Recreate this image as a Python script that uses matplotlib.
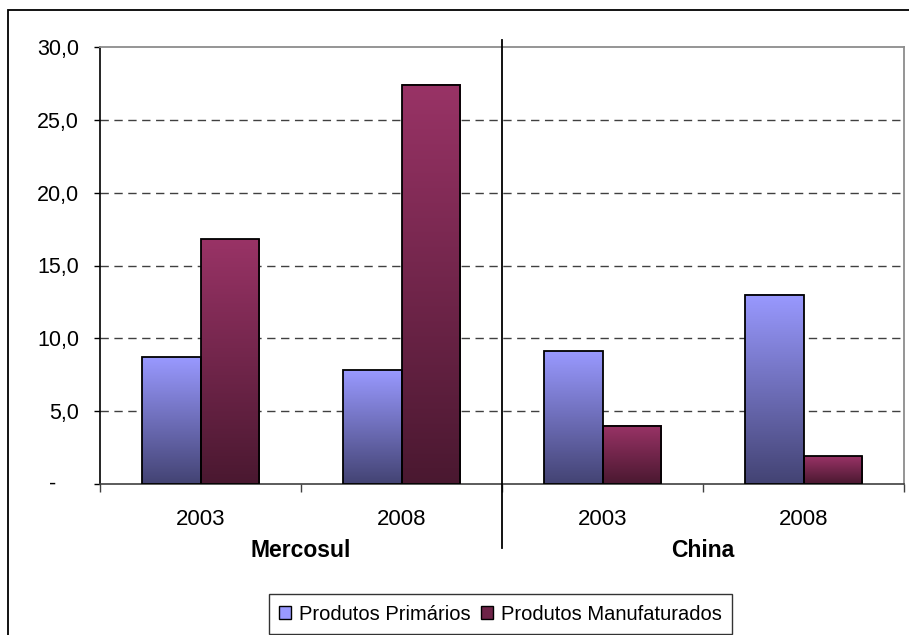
import numpy as np
import matplotlib
matplotlib.use("Agg")
import matplotlib.pyplot as plt
from matplotlib.patches import Rectangle, Patch
from matplotlib.colors import to_rgb

plt.rcParams['font.family'] = ['Liberation Sans', 'DejaVu Sans']

# Data
grupos = ['Mercosul', 'China']
anos = ['2003', '2008', '2003', '2008']
primarios = [8.7, 7.8, 9.1, 13.0]
manufaturados = [16.8, 27.4, 4.0, 1.9]
series = ['Produtos Primários', 'Produtos Manufaturados']
yticks = [0, 5, 10, 15, 20, 25, 30]

cor_prim = ('#9999FF', '#434373')
cor_manu = ('#993366', '#4A1830')

fig = plt.figure(figsize=(9.09, 6.35), dpi=100)
ax = fig.add_axes([100 / 909, 1 - 484 / 635, 804 / 909, 437 / 635])

x = np.arange(len(anos))
w = 0.29

b1 = ax.bar(x - w / 2, primarios, w, facecolor='none', edgecolor='black', lw=1.3, zorder=3)
b2 = ax.bar(x + w / 2, manufaturados, w, facecolor='none', edgecolor='black', lw=1.3, zorder=3)


def gradiente(bars, cores):
    c0 = np.array(to_rgb(cores[0]))
    c1 = np.array(to_rgb(cores[1]))
    t = np.linspace(0, 1, 256)[:, None]
    img = (c0 + (c1 - c0) * t)[:, None, :]
    for p in bars:
        x0, y0 = p.get_x(), p.get_y()
        ax.imshow(img, extent=(x0, x0 + p.get_width(), y0, y0 + p.get_height()),
                  origin='upper', aspect='auto', interpolation='bilinear', zorder=2)


gradiente(b1, cor_prim)
gradiente(b2, cor_manu)

ax.set_xlim(-0.5, len(anos) - 0.5)
ax.set_ylim(0, 30)

# grid
ax.set_yticks(yticks)
ax.set_yticklabels([''] + [f'{v:.1f}'.replace('.', ',') for v in yticks[1:]], fontsize=15.5)
ax.annotate('-', xy=(0, 0), xycoords=('axes fraction', 'data'), xytext=(-34, 0),
            textcoords='offset points', ha='center', va='center', fontsize=15.5)
for v in yticks[1:-1]:
    ax.axhline(v, color='#404040', lw=1, ls=(0, (6, 4)), zorder=1)
ax.tick_params(axis='y', length=4, width=1, pad=11)

ax.set_xticks(x)
ax.set_xticklabels(anos, fontsize=16)
ax.set_xticks(np.arange(-0.5, len(anos)), minor=True)
ax.tick_params(axis='x', which='major', length=0, pad=18)
ax.tick_params(axis='x', which='minor', length=6, width=1, color='#404040')

for s in ['top', 'right']:
    ax.spines[s].set_color('#8c8c8c')
    ax.spines[s].set_linewidth(1.3)
ax.spines['left'].set_color('black')
ax.spines['bottom'].set_color('#404040')
ax.spines['left'].set_linewidth(1.2)
ax.spines['bottom'].set_linewidth(1.2)

# group labels and separator
for i, g in enumerate(grupos):
    ax.text(2 * i + 0.5, -0.152, g, transform=ax.get_xaxis_transform(),
            ha='center', va='center', fontsize=16.5, fontweight='bold')
ax.plot([1.5, 1.5], [-0.146, 1.016], transform=ax.get_xaxis_transform(),
        color='black', lw=1.3, clip_on=False, zorder=5)

# legend
handles = [Patch(facecolor=cor_prim[0], edgecolor='black', lw=1),
           Patch(facecolor='#6E2448', edgecolor='black', lw=1)]
leg = fig.legend(handles, series, loc='center', bbox_to_anchor=(500.5 / 909, 1 - 614 / 635),
                 ncol=2, fontsize=14.5, frameon=True, fancybox=False, edgecolor='black',
                 handlelength=0.6, handleheight=0.6, handletextpad=0.4, columnspacing=0.5,
                 borderpad=0.5)
leg.get_frame().set_linewidth(1)

# outer chart border (cut by the picture edge)
fig.patches.append(Rectangle((8 / 909, -0.1), 1.2, 1.1 - 10 / 635, transform=fig.transFigure,
                             fill=False, edgecolor='black', lw=1.3))

fig.savefig('out.png', dpi=100)
